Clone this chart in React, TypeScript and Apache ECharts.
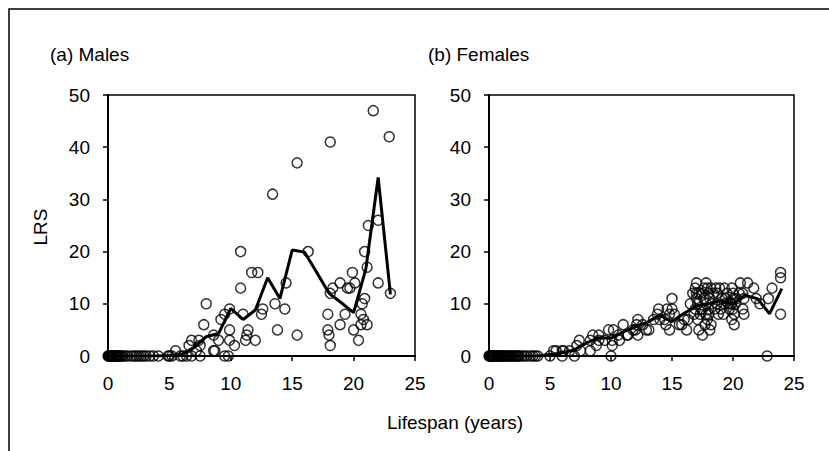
import React, { useEffect, useRef } from "react";
import * as echarts from "echarts";

// ---- Males ----
const maleZeroLifespan = [0, 0.05, 0.1, 0.15, 0.2, 0.25, 0.3, 0.4, 0.45, 0.5, 0.6, 0.65, 0.7, 0.8, 0.85, 0.9, 1.0, 1.1, 1.2, 1.4, 1.6, 1.9, 2.1, 2.3, 2.5, 2.7, 2.9, 3.1, 3.4, 3.7, 4.1, 4.9, 5.0, 5.2, 5.9, 6.1, 6.4, 6.8, 7.5, 9.5, 9.8];
const maleLifespan = [5.5, 6.6, 6.8, 7.2, 7.4, 7.5, 7.8, 8.0, 8.6, 8.7, 8.6, 9.0, 9.2, 9.5, 9.9, 9.9, 9.9, 10.3, 10.8, 10.8, 11.0, 11.4, 11.3, 11.2, 11.7, 12.2, 12.0, 12.5, 12.6, 13.4, 13.6, 13.8, 14.4, 14.5, 15.4, 15.4, 16.3, 17.9, 17.9, 18.0, 18.1, 18.1, 18.1, 18.3, 18.9, 18.9, 19.3, 19.5, 19.7, 19.9, 20.0, 20.1, 20.4, 20.6, 20.6, 20.7, 20.8, 20.9, 20.9, 21.1, 21.1, 21.2, 21.6, 22.0, 22.0, 22.9, 23.0];
const maleLRS = [1, 2, 3, 1, 3, 2, 6, 10, 1, 1, 4, 3, 7, 8, 9, 5, 3, 2, 20, 13, 8, 5, 4, 3, 16, 16, 3, 8, 9, 31, 10, 5, 9, 14, 37, 4, 20, 8, 5, 4, 2, 12, 41, 13, 14, 6, 8, 13, 13, 16, 5, 14, 3, 8, 6, 10, 7, 11, 20, 6, 17, 25, 47, 26, 14, 42, 12];
const maleMeanAge = [0, 1, 2, 3, 4, 5, 6, 7, 8, 9, 10, 11, 12, 13, 14, 15, 16, 17, 18, 19, 20, 21, 22, 23];
const maleMeanLRS = [0, 0, 0, 0, 0, 0.1, 0.3, 1.6, 3.7, 4.3, 9.1, 7.0, 8.8, 15.0, 11.0, 20.3, 19.9, 16.0, 12.0, 10.2, 8.3, 16.7, 34.2, 11.8];

// ---- Females ----
const femaleZeroLifespan = [0, 0.05, 0.1, 0.15, 0.2, 0.25, 0.3, 0.35, 0.4, 0.5, 0.55, 0.6, 0.7, 0.75, 0.8, 0.9, 1.0, 1.05, 1.1, 1.2, 1.3, 1.4, 1.5, 1.6, 1.7, 1.8, 1.9, 2.0, 2.1, 2.2, 2.3, 2.4, 2.5, 2.7, 2.9, 3.1, 3.4, 3.6, 3.8, 4.0, 5.0, 6.0, 7.0, 10.0, 22.8];
const femaleLifespan = [5.3, 5.5, 6.0, 6.1, 6.6, 7.2, 7.4, 7.5, 8.3, 8.3, 8.5, 9.0, 9.0, 9.8, 10.2, 10.1, 10.1, 10.7, 10.6, 11.0, 11.3, 11.4, 12.1, 12.2, 12.2, 12.0, 12.9, 13.1, 13.5, 13.9, 14.0, 14.4, 14.6, 14.8, 14.8, 15.0, 15.0, 15.8, 16.2, 16.0, 16.5,
  16.7, 16.8, 16.9, 17.0, 17.0, 17.0, 17.1, 17.1, 17.2, 17.3, 17.4, 17.5, 17.5, 17.6, 17.7, 17.8, 17.8, 17.9, 17.9, 18.0, 18.0, 18.0, 18.1, 18.1, 18.2, 18.2,
  18.6, 18.7, 18.7, 18.8, 18.9, 19.0, 19.2, 19.3, 19.4, 19.3, 19.5,
  19.8, 19.9, 20.0, 19.9, 20.0, 19.9, 20.1, 20.1, 20.0,
  20.6, 20.8, 20.9, 20.8, 20.9, 21.2, 21.7, 21.9, 22.2, 22.9, 23.2, 23.9, 23.9, 23.9,
  16.9, 17.2, 17.4, 17.6, 17.8, 18.3, 18.4, 18.5, 19.1, 19.6, 19.7, 20.2, 20.3, 20.5, 15.2, 16.3, 13.8, 12.6, 11.8, 9.5, 8.8, 14.5, 15.6];
const femaleLRS = [1, 1, 1, 1, 1, 2, 3, 1, 1, 3, 4, 4, 3, 5, 5, 2, 3, 3, 4, 6, 4, 4, 6, 7, 4, 5, 5, 5, 7, 9, 7, 7, 9, 8, 5, 11, 9, 6, 5, 7, 10,
  12, 8, 9, 14, 12, 11, 10, 7, 5, 8, 12, 4, 9, 11, 6, 14, 10, 13, 7, 12, 9, 8, 5, 11, 6, 13,
  13, 12, 10, 8, 13, 9, 8, 13, 11, 10, 12,
  10, 13, 12, 10, 9, 7, 6, 8, 11,
  14, 12, 11, 9, 8, 14, 13, 11, 10, 11, 13, 16, 15, 8,
  13, 12, 9, 13, 8, 10, 12, 9, 11, 10, 9, 10, 11, 12, 8, 7, 8, 6, 5, 3, 2, 6, 6];
const femaleMeanAge = [0, 1, 2, 3, 4, 5, 6, 7, 8, 9, 10, 11, 12, 13, 14, 15, 16, 17, 18, 19, 20, 21, 22, 23, 24];
const femaleMeanLRS = [0, 0, 0, 0, 0, 0.3, 0.6, 1.2, 2.5, 3.5, 3.4, 4.6, 5.6, 6.5, 7.8, 6.6, 8.2, 9.6, 10.0, 10.6, 10.0, 11.6, 11.0, 8.1, 12.9];

const xTicks = { min: 0, max: 25, interval: 5 };
const yTicks = { min: 0, max: 50, interval: 10 };

const FONT = 'Arial, "Liberation Sans", sans-serif';

export default function App() {
  const ref = useRef<HTMLDivElement>(null);
  useEffect(() => {
    if (!ref.current) return;
    const chart = echarts.init(ref.current, undefined, { renderer: "svg" });

    const pts = (xs: number[], ys: number[]) => xs.map((x, i) => [x, ys[i]]);
    const zeros = (xs: number[]) => xs.map((x) => [x, 0]);

    const axisCommon = {
      type: "value" as const,
      axisLine: { show: true, onZero: false, lineStyle: { color: "#000", width: 2 } },
      axisTick: { show: true, inside: false, length: 5, lineStyle: { color: "#000", width: 1.5 } },
      splitLine: { show: false },
    };
    const xAx = (gi: number) => ({
      ...axisCommon,
      gridIndex: gi,
      ...xTicks,
      axisLabel: { color: "#000", fontSize: 19, fontFamily: FONT, margin: 18 },
    });
    const yAx = (gi: number) => ({
      ...axisCommon,
      gridIndex: gi,
      ...yTicks,
      axisLabel: { color: "#000", fontSize: 19, fontFamily: FONT, margin: 18 },
    });

    const scatterStyle = {
      type: "scatter" as const,
      symbol: "circle",
      symbolSize: 10,
      clip: false,
      silent: true,
      itemStyle: { color: "rgba(0,0,0,0)", borderColor: "#000", borderWidth: 1.5 },
      z: 2,
    };
    const lineStyle = {
      type: "line" as const,
      showSymbol: false,
      symbol: "none",
      silent: true,
      lineStyle: { color: "#000", width: 3 },
      z: 3,
    };

    chart.setOption({
      animation: false,
      backgroundColor: "#fff",
      grid: [
        { left: 108, top: 95, width: 307, height: 261, show: true, borderColor: "#000", borderWidth: 1.5, backgroundColor: "transparent" },
        { left: 489, top: 95, width: 305, height: 261, show: true, borderColor: "#000", borderWidth: 1.5, backgroundColor: "transparent" },
      ],
      xAxis: [xAx(0), xAx(1)],
      yAxis: [yAx(0), yAx(1)],
      series: [
        { ...scatterStyle, xAxisIndex: 0, yAxisIndex: 0, data: [...zeros(maleZeroLifespan), ...pts(maleLifespan, maleLRS)] },
        { ...lineStyle, xAxisIndex: 0, yAxisIndex: 0, data: pts(maleMeanAge, maleMeanLRS) },
        { ...scatterStyle, xAxisIndex: 1, yAxisIndex: 1, data: [...zeros(femaleZeroLifespan), ...pts(femaleLifespan, femaleLRS)] },
        { ...lineStyle, xAxisIndex: 1, yAxisIndex: 1, data: pts(femaleMeanAge, femaleMeanLRS) },
      ],
      graphic: [
        { type: "rect", silent: true, shape: { x: 9, y: 9, width: 1000, height: 1000 }, style: { fill: "none", stroke: "#000", lineWidth: 1.5 } },
        { type: "text", x: 50, y: 54, style: { text: "(a) Males", font: `19px ${FONT}`, fill: "#000", align: "left", verticalAlign: "middle" } },
        { type: "text", x: 428, y: 54, style: { text: "(b) Females", font: `19px ${FONT}`, fill: "#000", align: "left", verticalAlign: "middle" } },
        { type: "text", x: 40, y: 227, rotation: Math.PI / 2, style: { text: "LRS", font: `19px ${FONT}`, fill: "#000", align: "center", verticalAlign: "middle" } },
        { type: "text", x: 455, y: 422, style: { text: "Lifespan (years)", font: `19px ${FONT}`, fill: "#000", align: "center", verticalAlign: "middle" } },
      ],
    });
    return () => chart.dispose();
  }, []);
  return <div ref={ref} style={{ position: "absolute", left: 0, top: 0, width: 829, height: 451 }} />;
}
